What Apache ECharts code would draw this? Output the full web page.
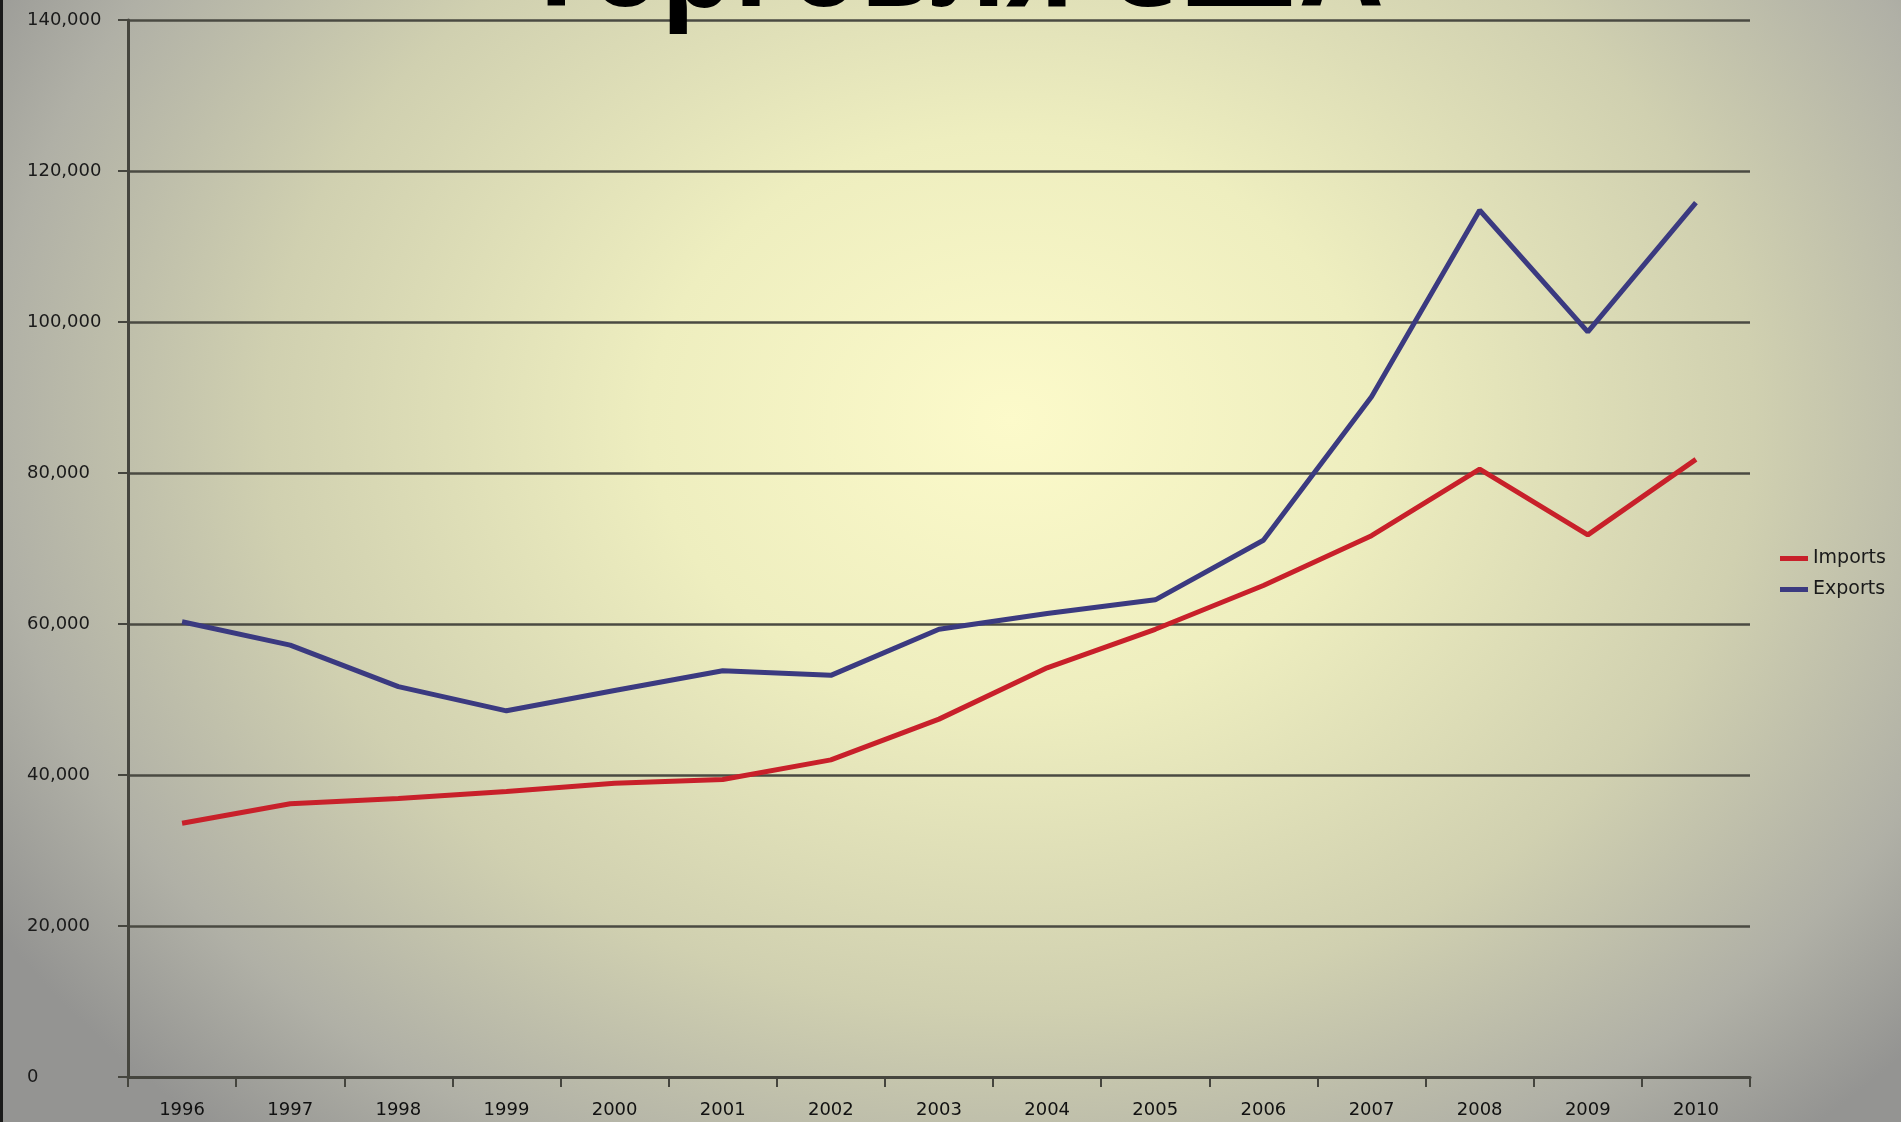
<!DOCTYPE html>
<html>
<head>
<meta charset="utf-8">
<script src="https://cdn.jsdelivr.net/npm/echarts@6/dist/echarts.min.js"></script>
<style>
  html, body { margin: 0; padding: 0; }
  body {
    width: 1901px;
    height: 1122px;
    overflow: hidden;
    background: radial-gradient(ellipse 1200px 950px at 1010px 420px, #fcfaca 0%, #eeeebf 30%, #d0d0b0 62%, #b0b0a6 85%, #949492 100%);
  }
  #chart {
    width: 1901px;
    height: 1122px;
    box-sizing: border-box;
    border-left: 3px solid #1a1a1a;
  }
</style>
</head>
<body>
<div id="chart"></div>
<script>
// годы
var years = ["1996", "1997", "1998", "1999", "2000", "2001", "2002", "2003",
  "2004", "2005", "2006", "2007", "2008", "2009", "2010"];
// значения
var imports = [33600, 36200, 36900, 37800, 38900, 39400, 42000, 47400,
  54200, 59300, 65100, 71700, 80500, 71800, 81800];
var exports = [60300, 57200, 51700, 48500, 51200, 53800, 53200, 59300,
  61400, 63200, 71100, 90100, 114800, 98700, 115800];
var yTicks = { min: 0, max: 140000, interval: 20000 };

var chart = echarts.init(document.getElementById("chart"));
var axisColor = "#45453e";
var font = "DejaVu Sans";

chart.setOption({
  backgroundColor: "transparent",
  animation: false,
  title: {
    text: "Торговля США",
    left: "center",
    top: -84,
    padding: 0,
    textStyle: {
      fontFamily: "Open Sans",
      fontWeight: "bold",
      fontSize: 115,
      color: "#000",
    },
  },
  legend: {
    orient: "vertical",
    left: 1777,
    top: 549,
    padding: 0,
    itemWidth: 28,
    itemHeight: 5,
    itemGap: 12,
    icon: "rect",
    textStyle: { fontFamily: font, fontSize: 19, color: "#1a1a1a" },
    data: ["Imports", "Exports"],
  },
  grid: {
    left: 125,
    right: 151,
    top: 20,
    bottom: 45,
    containLabel: false,
  },
  xAxis: {
    type: "category",
    data: years,
    boundaryGap: true,
    axisLine: { lineStyle: { color: axisColor, width: 3 } },
    axisTick: { show: true, length: 10, lineStyle: { color: axisColor, width: 2 } },
    axisLabel: { fontFamily: font, fontSize: 18, color: "#111", margin: 24 },
  },
  yAxis: {
    type: "value",
    min: yTicks.min,
    max: yTicks.max,
    interval: yTicks.interval,
    axisLine: { show: true, lineStyle: { color: axisColor, width: 3 } },
    axisTick: { show: true, length: 10, lineStyle: { color: axisColor, width: 2 } },
    splitLine: { lineStyle: { color: "#4a4a42", width: 2.5 } },
    axisLabel: {
      fontFamily: font,
      fontSize: 18,
      color: "#1a1a1a",
      align: "left",
      margin: 101,
      formatter: function (v) {
        return v.toLocaleString("en-US");
      },
    },
  },
  series: [
    {
      name: "Imports",
      type: "line",
      data: imports,
      symbol: "none",
      color: "#c8202a",
      lineStyle: { width: 5, color: "#c8202a" },
    },
    {
      name: "Exports",
      type: "line",
      data: exports,
      symbol: "none",
      color: "#3b3a80",
      lineStyle: { width: 5, color: "#3b3a80" },
    },
  ],
});
</script>
</body>
</html>
